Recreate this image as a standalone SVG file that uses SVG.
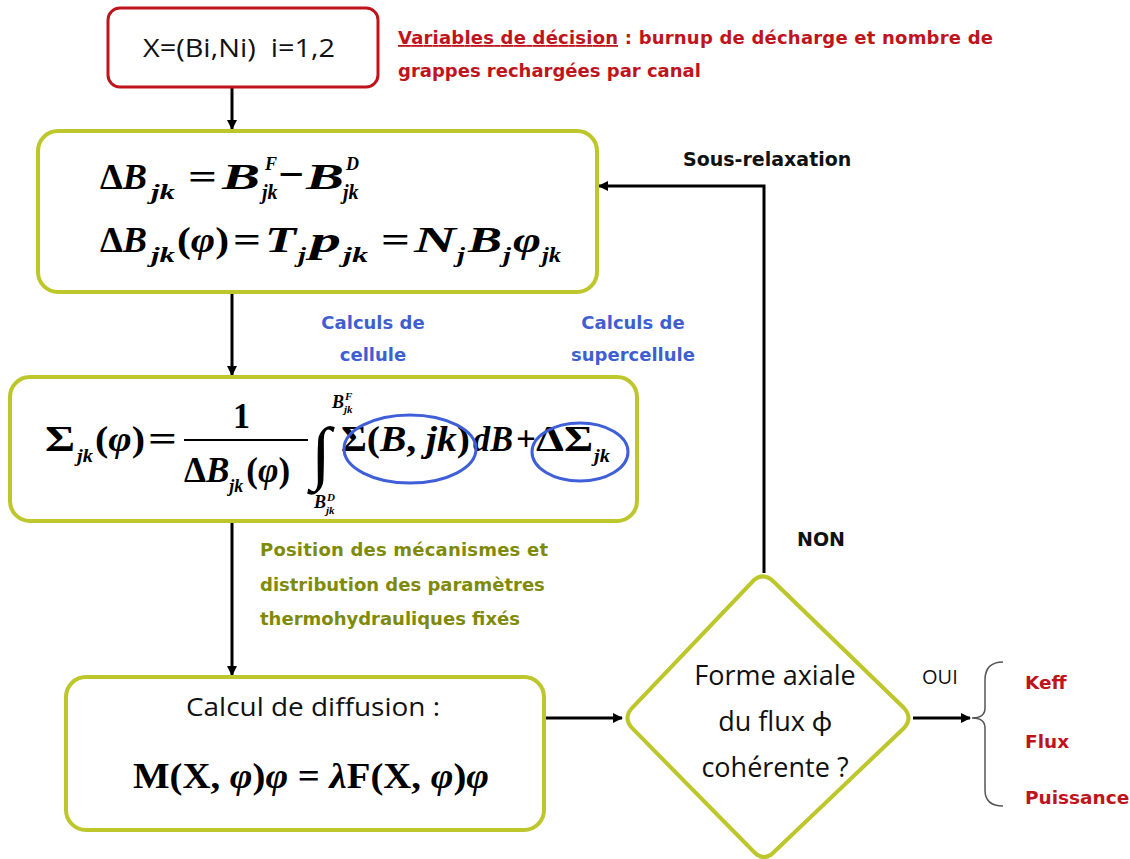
<svg xmlns="http://www.w3.org/2000/svg" width="1130" height="859" viewBox="0 0 1130 859">
<defs>
<marker id="ah" markerWidth="10" markerHeight="10" refX="9" refY="5" orient="auto" markerUnits="userSpaceOnUse">
<path d="M0,0 L10,5 L0,10 z" fill="#000"/>
</marker>
<style>
.box{fill:#fff;stroke:#bdc72b;stroke-width:4}
.red{fill:#fff;stroke:#c0141c;stroke-width:3}
.con{fill:none;stroke:#000;stroke-width:3;marker-end:url(#ah)}
.cal{font-family:"Open Sans",Lato,sans-serif;fill:#111}
.lbl{font-family:"DejaVu Sans",sans-serif;font-weight:bold}
.m{font-family:"Liberation Serif",serif;font-weight:bold;font-style:italic;fill:#000}
.u{font-style:normal}
.s{font-size:20px}
.t{font-size:18px}
</style>
</defs>
<rect width="1130" height="859" fill="#fff"/>

<g id="connectors">
<line class="con" x1="232" y1="88" x2="232" y2="129"/>
<line class="con" x1="232" y1="293" x2="232" y2="375"/>
<line class="con" x1="232" y1="523" x2="232" y2="675"/>
<line class="con" x1="546" y1="718" x2="622" y2="718"/>
<polyline class="con" points="764,573 764,186 599,186"/>
<line class="con" x1="913" y1="718" x2="970" y2="718"/>
<path d="M1003,662 Q985,662 985,680 L985,708 Q985,718 972,718 Q985,718 985,728 L985,790 Q985,806 1003,806" fill="none" stroke="#555" stroke-width="1.5"/>
</g>

<g id="n1">
<rect class="red" x="108" y="8" width="270" height="79" rx="12"/>
<text class="cal" x="143" y="57" font-size="25" textLength="192" lengthAdjust="spacingAndGlyphs" xml:space="preserve">X=(Bi,Ni)  i=1,2</text>
</g>
<g id="decision-note" class="lbl" fill="#c0141c" font-size="18">
<text x="398" y="44" textLength="595" lengthAdjust="spacing"><tspan text-decoration="underline">Variables de décision</tspan> : burnup de décharge et nombre de</text>
<text x="398" y="77">grappes rechargées par canal</text>
</g>

<g id="n2">
<rect class="box" x="38" y="131" width="559" height="161" rx="20"/>
<g class="m" font-size="35">
<text x="100" y="189" textLength="47" lengthAdjust="spacingAndGlyphs"><tspan class="u">Δ</tspan>B</text>
<text class="s" x="151" y="199" textLength="24" lengthAdjust="spacingAndGlyphs">jk</text>
<text class="u" x="188" y="189" textLength="29" lengthAdjust="spacingAndGlyphs">=</text>
<text x="222" y="189" textLength="38" lengthAdjust="spacingAndGlyphs">B</text>
<text x="262" y="199"><tspan class="t" x="265" y="170">F</tspan><tspan class="s" x="262" y="199">jk</tspan></text>
<text class="u" x="278" y="189" font-size="44" textLength="26" lengthAdjust="spacingAndGlyphs">−</text>
<text x="306" y="189" textLength="38" lengthAdjust="spacingAndGlyphs">B</text>
<text x="343" y="199"><tspan class="t" x="346" y="170">D</tspan><tspan class="s" x="343" y="199">jk</tspan></text>

<text x="100" y="252" textLength="47" lengthAdjust="spacingAndGlyphs"><tspan class="u">Δ</tspan>B</text>
<text class="s" x="151" y="262" textLength="24" lengthAdjust="spacingAndGlyphs">jk</text>
<text x="177" y="252" textLength="52" lengthAdjust="spacingAndGlyphs"><tspan class="u">(</tspan>φ<tspan class="u">)</tspan></text>
<text class="u" x="233" y="252" textLength="28" lengthAdjust="spacingAndGlyphs">=</text>
<text x="265" y="252" textLength="31" lengthAdjust="spacingAndGlyphs">T</text>
<text class="s" x="298" y="262" textLength="8" lengthAdjust="spacingAndGlyphs">j</text>
<text x="310" y="252" textLength="31" lengthAdjust="spacingAndGlyphs">p</text>
<text class="s" x="343" y="262" textLength="25" lengthAdjust="spacingAndGlyphs">jk</text>
<text class="u" x="381" y="252" textLength="29" lengthAdjust="spacingAndGlyphs">=</text>
<text x="414" y="252" textLength="42" lengthAdjust="spacingAndGlyphs">N</text>
<text class="s" x="457" y="262" textLength="8" lengthAdjust="spacingAndGlyphs">j</text>
<text x="468" y="252" textLength="34" lengthAdjust="spacingAndGlyphs">B</text>
<text class="s" x="503" y="262" textLength="8" lengthAdjust="spacingAndGlyphs">j</text>
<text x="513" y="252" textLength="28" lengthAdjust="spacingAndGlyphs">φ</text>
<text class="s" x="542" y="262" textLength="19" lengthAdjust="spacingAndGlyphs">jk</text>
</g>
</g>

<g id="cell-notes" class="lbl" fill="#3f5fd0" font-size="18" text-anchor="middle">
<text x="373" y="329">Calculs de</text>
<text x="373" y="361">cellule</text>
<text x="633" y="329">Calculs de</text>
<text x="633" y="361">supercellule</text>
</g>

<g id="n3">
<rect class="box" x="10" y="377" width="627" height="144" rx="20"/>
<g class="m" font-size="35">
<text class="u" x="45" y="451" textLength="30" lengthAdjust="spacingAndGlyphs">Σ</text>
<text class="t" x="77" y="462" textLength="16" lengthAdjust="spacingAndGlyphs">jk</text>
<text x="95" y="451" textLength="50" lengthAdjust="spacingAndGlyphs"><tspan class="u">(</tspan>φ<tspan class="u">)</tspan></text>
<text class="u" x="148" y="451" textLength="29" lengthAdjust="spacingAndGlyphs">=</text>
<text class="u" x="233" y="428" textLength="17" lengthAdjust="spacingAndGlyphs">1</text>
<line x1="184" y1="440" x2="308" y2="440" stroke="#000" stroke-width="2"/>
<text x="184" y="482"><tspan class="u">Δ</tspan>B<tspan class="t" dy="10">jk</tspan><tspan dx="3" dy="-10" class="u">(</tspan>φ<tspan class="u">)</tspan></text>
<text class="u" x="311" y="476" font-size="70" textLength="20" lengthAdjust="spacingAndGlyphs">∫</text>
<text x="332" y="408" font-size="18">B<tspan font-size="11" x="345" y="400">F</tspan><tspan font-size="11" x="344" y="413">jk</tspan></text>
<text x="314" y="508" font-size="18">B<tspan font-size="11" x="327" y="501">D</tspan><tspan font-size="11" x="326" y="514">jk</tspan></text>
<text x="341" y="451" textLength="129" lengthAdjust="spacingAndGlyphs"><tspan class="u">Σ(</tspan>B<tspan class="u">, </tspan>jk<tspan class="u">)</tspan></text>
<text x="473" y="451" textLength="40" lengthAdjust="spacingAndGlyphs">dB</text>
<text class="u" x="516" y="451" textLength="20" lengthAdjust="spacingAndGlyphs">+</text>
<text class="u" x="536" y="451" textLength="57" lengthAdjust="spacingAndGlyphs">ΔΣ</text>
<text class="t" x="594" y="462" textLength="16" lengthAdjust="spacingAndGlyphs">jk</text>
</g>
<ellipse cx="410" cy="449" rx="66" ry="34" fill="none" stroke="#3f5fd9" stroke-width="3"/>
<ellipse cx="580" cy="452" rx="48" ry="29" fill="none" stroke="#3f5fd9" stroke-width="3"/>
</g>

<g id="fixed-note" class="lbl" fill="#7f8a0a" font-size="18">
<text x="260" y="556" textLength="288" lengthAdjust="spacing">Position des mécanismes et</text>
<text x="260" y="591">distribution des paramètres</text>
<text x="260" y="625">thermohydrauliques fixés</text>
</g>

<g id="n4">
<rect class="box" x="66" y="677" width="478" height="153" rx="20"/>
<text class="cal" x="186" y="716" font-size="25" textLength="254" lengthAdjust="spacingAndGlyphs">Calcul de diffusion :</text>
<text class="m" x="133" y="788" font-size="36" textLength="356" lengthAdjust="spacingAndGlyphs"><tspan class="u">M(X, </tspan>φ<tspan class="u">)</tspan>φ<tspan class="u"> = </tspan>λ<tspan class="u">F(X, </tspan>φ<tspan class="u">)</tspan>φ</text>
</g>

<g id="n5">
<path class="box" d="M754,580 Q764,572 774,582 L904,708 Q913,718 904,728 L774,852 Q764,862 754,852 L632,728 Q623,718 632,708 Z"/>
<g class="cal" font-size="27" text-anchor="middle">
<text x="775" y="685">Forme axiale</text>
<text x="775" y="731">du flux ϕ</text>
<text x="775" y="777">cohérente ?</text>
</g>
</g>

<g id="labels">
<text class="lbl" x="683" y="166" font-size="19" fill="#111">Sous-relaxation</text>
<text class="lbl" x="797" y="546" font-size="19" fill="#111">NON</text>
<text class="cal" x="922" y="684" font-size="20" fill="#111">OUI</text>
</g>

<g id="outputs" class="lbl" fill="#c0141c" font-size="18.5">
<text x="1025" y="689">Keff</text>
<text x="1025" y="748">Flux</text>
<text x="1025" y="804">Puissance</text>
</g>
</svg>
